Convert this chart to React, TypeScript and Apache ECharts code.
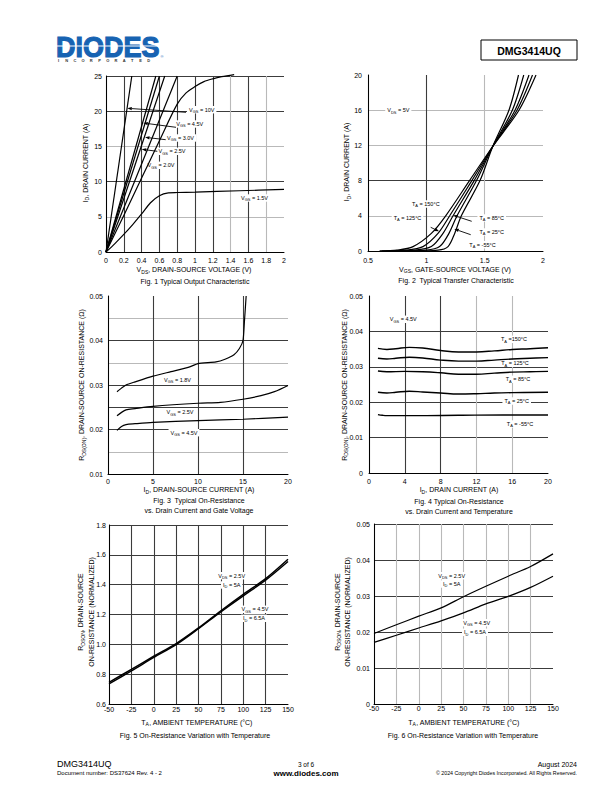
import React, { useEffect, useRef } from 'react';
import * as echarts from 'echarts';

const FONT = '"Liberation Sans", Arial, Helvetica, sans-serif';

// ---------- Fig 1: output characteristic (VDS [V], ID [A]) ----------
const f1Vgs10 = [[0, 0], [0.29, 25]];
const f1Vgs45 = [[0, 0], [0.56, 25]];
const f1Vgs30 = [[0, 0], [0.6, 25]];
const f1Vgs25 = [[0, 0], [0.66, 25]];
const f1Vgs25b = [[0, 0], [0.8, 25]];
const f1Vgs20 = [[0, 0], [0.2, 5.2], [0.4, 10.5], [0.6, 15.8], [0.8, 21.0], [0.9, 22.6], [1.0, 23.5], [1.1, 24.2], [1.2, 24.6], [1.3, 24.9], [1.44, 25.2]];
const f1Vgs15 = [[0, 0], [0.1, 1.2], [0.2, 2.5], [0.3, 3.9], [0.4, 5.4], [0.5, 7.0], [0.6, 8.0], [0.7, 8.4], [0.8, 8.45], [1.0, 8.5], [1.5, 8.7], [2.0, 8.9]];

// ---------- Fig 2: transfer characteristic (VGS [V], ID [A]) ----------
const f2T150 = [[0.6, 0], [0.75, 0.1], [0.886, 0.5], [1.043, 2], [1.166, 4], [1.37, 8], [1.57, 11.9], [1.794, 16], [1.94, 20]];
const f2T125 = [[0.6, 0], [0.82, 0.1], [0.971, 0.5], [1.1, 2], [1.2, 4], [1.39, 8], [1.57, 11.9], [1.777, 16], [1.91, 20]];
const f2T85 = [[0.62, 0], [0.9, 0.1], [1.043, 0.5], [1.143, 2], [1.229, 4], [1.41, 8], [1.57, 11.9], [1.76, 16], [1.88, 20]];
const f2T25 = [[0.7, 0], [1.0, 0.1], [1.114, 0.5], [1.194, 2], [1.263, 4], [1.43, 8], [1.57, 11.9], [1.737, 16], [1.835, 20]];
const f2Tm55 = [[0.85, 0], [1.1, 0.1], [1.186, 0.5], [1.243, 2], [1.3, 4], [1.46, 8], [1.57, 11.9], [1.708, 16], [1.79, 20]];

// ---------- Fig 3: RDS(ON) vs ID and VGS ----------
const f3Vgs18 = [[1, 0.0285], [1.5, 0.0293], [2, 0.03], [3, 0.0307], [5, 0.032], [7, 0.033], [9, 0.034], [10, 0.0348], [12, 0.0352], [13, 0.0358], [14, 0.0368], [14.6, 0.0382], [15, 0.04], [15.15, 0.044], [15.35, 0.05]];
const f3Vgs25 = [[1, 0.0231], [2, 0.0244], [3, 0.0247], [5, 0.0252], [10, 0.0259], [12.5, 0.0261], [15, 0.0268], [17, 0.0276], [18.5, 0.0285], [20, 0.0299]];
const f3Vgs45 = [[1, 0.0198], [1.5, 0.0207], [2, 0.0211], [3, 0.0213], [5, 0.0216], [10, 0.022], [15, 0.0223], [20, 0.0228]];

// ---------- Fig 4: RDS(ON) vs ID and temperature ----------
const f4T150 = [[1, 0.0352], [2, 0.0349], [3, 0.0351], [4.5, 0.0355], [6, 0.0353], [8, 0.0346], [10, 0.0342], [12, 0.0342], [14, 0.0345], [16, 0.0349], [18, 0.0351], [20, 0.0354]];
const f4T125 = [[1, 0.0324], [2, 0.0322], [3, 0.0324], [4.5, 0.0327], [6, 0.0325], [8, 0.0319], [10, 0.0316], [12, 0.0316], [14, 0.0319], [16, 0.0322], [18, 0.0324], [20, 0.0326]];
const f4T85 = [[1, 0.0288], [2, 0.0286], [4, 0.0287], [6, 0.0286], [8, 0.0283], [10, 0.0279], [12, 0.0279], [14, 0.0282], [16, 0.0285], [18, 0.0286], [20, 0.0287]];
const f4T25 = [[1, 0.0228], [2, 0.0226], [3, 0.0228], [4.5, 0.0231], [6, 0.0229], [8, 0.0226], [10, 0.0223], [12, 0.0224], [14, 0.0226], [16, 0.0227], [20, 0.0228]];
const f4Tm55 = [[1, 0.0165], [1.5, 0.0163], [2, 0.0162], [5, 0.0162], [10, 0.0163], [15, 0.0164], [20, 0.0164]];

// ---------- Fig 5 / Fig 6: vs ambient temperature ----------
const tempsTA = [-50, -25, 0, 25, 50, 75, 100, 125, 150];
const f5Vgs25 = [0.745, 0.832, 0.92, 1.005, 1.11, 1.225, 1.335, 1.44, 1.57];
const f5Vgs45 = [0.735, 0.822, 0.912, 0.998, 1.105, 1.218, 1.325, 1.43, 1.555];
const f6Vgs25 = [0.0196, 0.022, 0.0244, 0.0267, 0.0298, 0.0327, 0.0355, 0.0382, 0.0417];
const f6Vgs45 = [0.0171, 0.0191, 0.0211, 0.0231, 0.0253, 0.0278, 0.0299, 0.0324, 0.0355];

const D = '#3c3c3c';
const G = '#b9b9b9';
const N = 'rgba(0,0,0,0)';

function rich(s: string) {
  return '{n|' + s.replace(/_\{([^}]*)\}/g, '}{s|$1}{n|') + '}';
}

type TOpt = { size?: number; rot?: boolean; bg?: boolean; align?: string; bold?: boolean; color?: string };
function T(x: number, y: number, s: string, o: TOpt = {}) {
  const fs = o.size ?? 7;
  const col = o.color ?? '#000';
  return {
    type: 'text',
    x,
    y,
    z: o.bg ? 4 : 10,
    rotation: o.rot ? Math.PI / 2 : 0,
    silent: true,
    style: {
      text: rich(s),
      align: o.align ?? 'center',
      verticalAlign: 'middle',
      fontFamily: FONT,
      fontSize: fs,
      fill: col,
      backgroundColor: o.bg ? '#fff' : 'transparent',
      padding: o.bg ? [0, 2, 0, 2] : 0,
      rich: {
        n: { fontSize: fs, fontFamily: FONT, fill: col, lineHeight: fs * 1.35, fontWeight: o.bold ? 'bold' : 'normal' },
        s: { fontSize: fs * 0.72, fontFamily: FONT, fill: col, verticalAlign: 'bottom', fontWeight: o.bold ? 'bold' : 'normal' },
      },
    },
  };
}

function arrow(x1: number, y1: number, x2: number, y2: number) {
  const ang = Math.atan2(y2 - y1, x2 - x1);
  const L = 4.5, W = 1.7;
  const bx = x2 - L * Math.cos(ang), by = y2 - L * Math.sin(ang);
  const px = -Math.sin(ang) * W, py = Math.cos(ang) * W;
  return [
    { type: 'line', z: 12, silent: true, shape: { x1, y1, x2: bx, y2: by }, style: { stroke: '#000', lineWidth: 0.9 } },
    { type: 'polygon', z: 12, silent: true, shape: { points: [[x2, y2], [bx + px, by + py], [bx - px, by - py]] }, style: { fill: '#000' } },
  ];
}

function ax(i: number, min: number, max: number, interval: number, colors: string[], margin: number, fmt?: (v: number) => string) {
  return {
    type: 'value', gridIndex: i, min, max, interval,
    axisLine: { show: true, onZero: false, lineStyle: { color: '#000', width: 1 } },
    axisTick: { show: false },
    axisLabel: { fontSize: 7, color: '#000', fontFamily: FONT, margin, formatter: fmt, showMinLabel: true, showMaxLabel: true },
    splitLine: { show: true, lineStyle: { color: colors, width: 1.1 } },
  };
}

function S(i: number, data: number[][], opts: { smooth?: number | boolean; clip?: boolean; width?: number } = {}) {
  return {
    type: 'line', xAxisIndex: i, yAxisIndex: i, data, showSymbol: false, symbol: 'none', silent: true,
    smooth: opts.smooth ?? false, clip: opts.clip ?? true, z: 5,
    lineStyle: { color: '#000', width: opts.width ?? 1.2 },
  };
}

const zip = (xs: number[], ys: number[]) => xs.map((x, k) => [x, ys[k]]);

function buildOption() {
  const grids = [
    { left: 106, top: 76, width: 178, height: 176 },
    { left: 368, top: 75, width: 175, height: 176 },
    { left: 108, top: 296, width: 180, height: 178 },
    { left: 369, top: 296, width: 179, height: 177 },
    { left: 109, top: 525, width: 179, height: 179 },
    { left: 374, top: 524, width: 179, height: 180 },
  ];

  const xAxis = [
    ax(0, 0, 2, 0.2, [D, D, D, D, D, D, D, G, D, G, N], 5),
    ax(1, 0.5, 2, 0.5, [D, D, G, N], 5.5),
    ax(2, 0, 20, 5, [D, D, D, D, N], 4),
    ax(3, 0, 20, 4, [D, D, D, G, G, N], 5),
    ax(4, -50, 150, 25, [D, D, D, D, D, D, D, D, N], 1.5),
    ax(5, -50, 150, 25, [D, G, G, G, G, G, G, G, N], 1),
  ];
  const yAxis = [
    ax(0, 0, 25, 5, [D, G, D, G, D, D], 4),
    ax(1, 0, 20, 4, [D, G, D, G, G, N], 6),
    ax(2, 0.01, 0.05, 0.005, [D, G, D, D, D, G, D, G, N], 5, (v) => (Math.round(v * 1000) % 10 === 0 ? v.toFixed(2) : '')),
    ax(3, 0, 0.05, 0.01, [D, D, D, D, D, N], 6),
    ax(4, 0.6, 1.8, 0.2, [D, D, D, D, D, D, D], 3, (v) => v.toFixed(1)),
    ax(5, 0, 0.05, 0.01, [D, D, D, D, D, D], 4),
  ];

  const series = [
    S(0, f1Vgs10), S(0, f1Vgs45), S(0, f1Vgs30), S(0, f1Vgs25), S(0, f1Vgs25b),
    S(0, f1Vgs20, { smooth: 0.3, clip: false }), S(0, f1Vgs15, { smooth: 0.3 }),
    S(1, f2T150, { smooth: 0.3 }), S(1, f2T125, { smooth: 0.3 }), S(1, f2T85, { smooth: 0.3 }), S(1, f2T25, { smooth: 0.3 }), S(1, f2Tm55, { smooth: 0.3 }),
    S(2, f3Vgs18, { smooth: 0.2 }), S(2, f3Vgs25, { smooth: 0.3 }), S(2, f3Vgs45, { smooth: 0.3 }),
    S(3, f4T150, { smooth: 0.4, width: 1.4 }), S(3, f4T125, { smooth: 0.4, width: 1.4 }), S(3, f4T85, { smooth: 0.4, width: 1.4 }), S(3, f4T25, { smooth: 0.4, width: 1.4 }), S(3, f4Tm55, { smooth: 0.4, width: 1.4 }),
    S(4, zip(tempsTA, f5Vgs25), { smooth: 0.3, width: 1.5 }), S(4, zip(tempsTA, f5Vgs45), { smooth: 0.3, width: 1.5 }),
    S(5, zip(tempsTA, f6Vgs25), { smooth: 0.3 }), S(5, zip(tempsTA, f6Vgs45), { smooth: 0.3 }),
  ];

  const sm = 5.5;
  const incorporated = 'INCORPORATED'.split('').map((ch, k) => T(58.5 + k * 8.2, 60, ch, { size: 4, color: '#333', bold: true }));

  const elements: any[] = [
    // header logo
    {
      type: 'text', x: 56, y: 46, scaleX: 0.9, silent: true, z: 10,
      style: { text: 'DIODES', fontFamily: FONT, fontWeight: 'bold', fontSize: 30, fill: '#1763b2', stroke: '#1763b2', lineWidth: 1.2, verticalAlign: 'middle', align: 'left' },
    },
    { type: 'rect', z: 11, silent: true, shape: { x: 56, y: 45.6, width: 104, height: 1 }, style: { fill: '#fff' } },
    ...incorporated,
    T(162, 56, '®', { size: 4, color: '#1763b2' }),
    { type: 'rect', z: 10, silent: true, shape: { x: 481, y: 40, width: 96, height: 20 }, style: { fill: 'none', stroke: '#000', lineWidth: 1 } },
    T(529, 50.5, 'DMG3414UQ', { size: 10.5, bold: true }),

    // Fig 1
    T(85, 163, 'I_{D}, DRAIN CURRENT (A)', { rot: true }),
    T(194, 269.5, 'V_{DS}, DRAIN-SOURCE VOLTAGE (V)'),
    T(195, 281.5, 'Fig. 1 Typical Output Characteristic'),
    T(201.7, 109.7, 'V_{GS} = 10V', { size: sm, bg: true }),
    T(189.7, 124, 'V_{GS} = 4.5V', { size: sm, bg: true }),
    T(180.5, 138, 'V_{GS} = 3.0V', { size: sm, bg: true }),
    T(172, 151.3, 'V_{GS} = 2.5V', { size: sm, bg: true }),
    T(161, 165.3, 'V_{GS} = 2.0V', { size: sm, bg: true }),
    T(254.5, 198, 'V_{GS} = 1.5V', { size: sm, bg: true }),
    ...arrow(186, 112.3, 127.3, 108.3),
    ...arrow(176, 127.3, 143.3, 123),
    ...arrow(165.7, 139.7, 145, 137.3),
    ...arrow(157.3, 151.3, 141.7, 149.3),

    // Fig 2
    T(346.5, 162, 'I_{D}, DRAIN CURRENT (A)', { rot: true }),
    T(455, 269, 'V_{GS}, GATE-SOURCE VOLTAGE (V)'),
    T(456, 280, 'Fig. 2  Typical Transfer Characteristic'),
    T(398.3, 110.3, 'V_{DS} = 5V', { size: sm, bg: true }),
    T(425.8, 204, 'T_{A} = 150°C', { size: sm, bg: true }),
    T(407.5, 218, 'T_{A} = 125°C', { size: sm, bg: true }),
    T(491.7, 218, 'T_{A} = 85°C', { size: sm, bg: true }),
    T(491.7, 232, 'T_{A} = 25°C', { size: sm, bg: true }),
    T(482.5, 244.7, 'T_{A} = -55°C', { size: sm, bg: true }),
    ...arrow(471.7, 221.3, 453.3, 215.3),
    ...arrow(470.7, 234.7, 454.3, 229),
    ...arrow(430.7, 227.3, 439, 231.3),

    // Fig 3
    T(81.5, 385, 'R_{DS(ON)}, DRAIN-SOURCE ON-RESISTANCE (Ω)', { rot: true }),
    T(199, 489.5, 'I_{D}, DRAIN-SOURCE CURRENT (A)'),
    T(199, 500.5, 'Fig. 3  Typical On-Resistance'),
    T(199, 510, 'vs. Drain Current and Gate Voltage'),
    T(177.5, 380, 'V_{GS} = 1.8V', { size: sm, bg: true }),
    T(180, 412.3, 'V_{GS} = 2.5V', { size: sm, bg: true }),
    T(184, 432.7, 'V_{GS} = 4.5V', { size: sm, bg: true }),

    // Fig 4
    T(344, 385, 'R_{DS(ON)}, DRAIN-SOURCE ON-RESISTANCE (Ω)', { rot: true }),
    T(459, 489.5, 'I_{D}, DRAIN CURRENT (A)'),
    T(459, 501, 'Fig. 4 Typical On-Resistance'),
    T(459, 511, 'vs. Drain Current and Temperature'),
    T(403.3, 319.3, 'V_{GS} = 4.5V', { size: sm, bg: true }),
    T(514, 339.3, 'T_{A} =150°C', { size: sm, bg: true }),
    T(515, 363.3, 'T_{A} = 125°C', { size: sm, bg: true }),
    T(518, 379.3, 'T_{A} = 85°C', { size: sm, bg: true }),
    T(516.7, 401, 'T_{A} = 25°C', { size: sm, bg: true }),
    T(520, 424, 'T_{A} = -55°C', { size: sm, bg: true }),

    // Fig 5
    T(80.5, 612, 'R_{DSON}, DRAIN-SOURCE', { rot: true }),
    T(91, 612, 'ON-RESISTANCE (NORMALIZED)', { rot: true }),
    T(197, 722, 'T_{A}, AMBIENT TEMPERATURE (°C)'),
    T(195, 735.5, 'Fig. 5 On-Resistance Variation with Temperature'),
    T(231.7, 575.7, 'V_{DS} = 2.5V', { size: sm, bg: true }),
    T(231.7, 585, 'I_{D} = 5A', { size: sm, bg: true }),
    T(255, 609.3, 'V_{GS} = 4.5V', { size: sm, bg: true }),
    T(254, 618.3, 'I_{D} = 6.5A', { size: sm, bg: true }),

    // Fig 6
    T(337, 612, 'R_{DSON}, DRAIN-SOURCE', { rot: true }),
    T(347, 612, 'ON-RESISTANCE (NORMALIZED)', { rot: true }),
    T(464, 722, 'T_{A}, AMBIENT TEMPERATURE (°C)'),
    T(463, 735.5, 'Fig. 6 On-Resistance Variation with Temperature'),
    T(451.7, 575.7, 'V_{DS} = 2.5V', { size: sm, bg: true }),
    T(451.7, 584, 'I_{D} = 5A', { size: sm, bg: true }),
    T(476.7, 622.7, 'V_{GS} = 4.5V', { size: sm, bg: true }),
    T(475, 632.3, 'I_{D} = 6.5A', { size: sm, bg: true }),

    // footer
    T(57, 764, 'DMG3414UQ', { size: 9, align: 'left' }),
    T(57, 773, 'Document number: DS37624 Rev. 4 - 2', { size: 6, align: 'left' }),
    T(306, 764, '3 of 6', { size: 6.5 }),
    T(306, 773, 'www.diodes.com', { size: 8, bold: true }),
    T(577, 764, 'August 2024', { size: 7, align: 'right' }),
    T(577, 773, '© 2024 Copyright Diodes Incorporated. All Rights Reserved.', { size: 5.3, align: 'right' }),
  ];

  return {
    animation: false,
    backgroundColor: '#fff',
    textStyle: { fontFamily: FONT },
    grid: grids.map((g) => ({ ...g, containLabel: false })),
    xAxis,
    yAxis,
    series,
    graphic: { elements },
  };
}

export default function App() {
  const ref = useRef<HTMLDivElement>(null);
  useEffect(() => {
    if (!ref.current) return;
    const chart = echarts.init(ref.current, undefined, { renderer: 'svg', width: 612, height: 792 });
    chart.setOption(buildOption() as any);
    return () => chart.dispose();
  }, []);
  return <div ref={ref} style={{ position: 'absolute', left: 0, top: 0, width: 612, height: 792, background: '#fff' }} />;
}
